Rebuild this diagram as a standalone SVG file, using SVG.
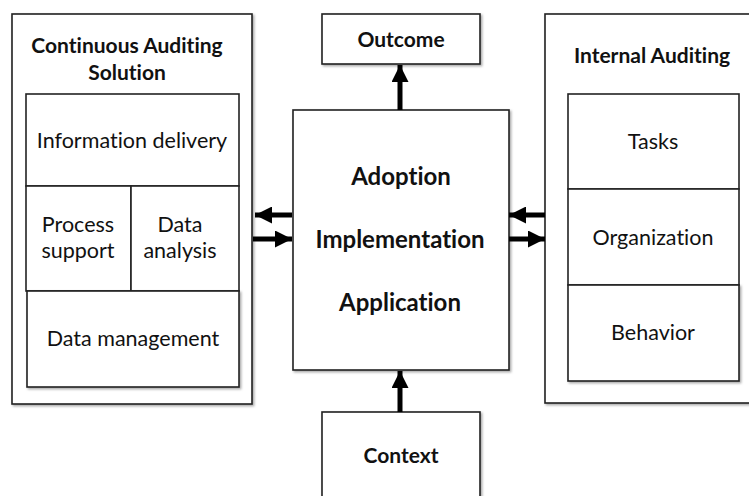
<svg xmlns="http://www.w3.org/2000/svg" width="749" height="496" viewBox="0 0 749 496">
<defs>
<style>
.box{fill:#fff;stroke:#222;stroke-width:1.6;filter:url(#sh)}
.cell{fill:#fff;stroke:#222;stroke-width:1.6}
.t{font-family:Lato,"Open Sans","Liberation Sans",sans-serif;fill:#111;text-anchor:middle;font-variant-ligatures:none}
.r{font-size:21.5px}
.b{font-size:21px;font-weight:bold}
.bc{font-size:24px;font-weight:bold}
.arr{stroke:#000;stroke-width:5;fill:none}
</style>
<filter id="sh" x="-5%" y="-5%" width="115%" height="115%">
<feDropShadow dx="1.5" dy="1.5" stdDeviation="1.2" flood-color="#000" flood-opacity="0.35"/>
</filter>
<marker id="ah" viewBox="0 0 10 10" refX="10" refY="5" markerWidth="3.6" markerHeight="3.4" orient="auto" markerUnits="strokeWidth">
<path d="M0,0 L10,5 L0,10 Z" fill="#000"/>
</marker>
</defs>
<rect width="749" height="496" fill="#fff"/>
<g id="cas">
<rect class="box" x="12" y="14" width="240" height="390"/>
<text class="t b" x="127" y="53">Continuous Auditing</text>
<text class="t b" x="127" y="80">Solution</text>
<rect class="cell" x="26" y="94" width="213" height="92"/>
<text class="t r" x="132" y="148">Information delivery</text>
<rect class="cell" x="26" y="186" width="105" height="105"/>
<text class="t r" x="78" y="232">Process</text>
<text class="t r" x="78" y="258">support</text>
<rect class="cell" x="131" y="186" width="108" height="105"/>
<text class="t r" x="180" y="232">Data</text>
<text class="t r" x="180" y="258">analysis</text>
<rect class="box" x="27" y="291" width="212" height="96"/>
<text class="t r" x="133" y="346">Data management</text>
</g>
<g id="core">
<rect class="box" x="293" y="110" width="216" height="260"/>
<text class="t bc" x="401" y="185">Adoption</text>
<text class="t bc" x="400" y="248">Implementation</text>
<text class="t bc" x="400" y="311">Application</text>
</g>
<g id="outcome">
<rect class="box" x="322" y="14" width="158" height="50"/>
<text class="t b" x="401" y="47">Outcome</text>
</g>
<g id="context">
<rect class="box" x="322" y="412" width="158" height="100"/>
<text class="t b" x="401" y="463">Context</text>
</g>
<g id="ia">
<rect class="box" x="545" y="14" width="215" height="389"/>
<text class="t b" x="652" y="63">Internal Auditing</text>
<rect class="cell" x="568" y="94" width="171" height="95"/>
<text class="t r" x="653" y="149">Tasks</text>
<rect class="cell" x="568" y="189" width="171" height="96"/>
<text class="t r" x="653" y="245">Organization</text>
<rect class="box" x="568" y="285" width="171" height="96"/>
<text class="t r" x="653" y="340">Behavior</text>
</g>
<g id="connectors">
<line class="arr" x1="400" y1="110" x2="400" y2="65" marker-end="url(#ah)"/>
<line class="arr" x1="400" y1="412" x2="400" y2="371" marker-end="url(#ah)"/>
<line class="arr" x1="292" y1="215" x2="255" y2="215" marker-end="url(#ah)"/>
<line class="arr" x1="253" y1="239" x2="292" y2="239" marker-end="url(#ah)"/>
<line class="arr" x1="545" y1="215" x2="509" y2="215" marker-end="url(#ah)"/>
<line class="arr" x1="509" y1="239" x2="545" y2="239" marker-end="url(#ah)"/>
</g>
</svg>
